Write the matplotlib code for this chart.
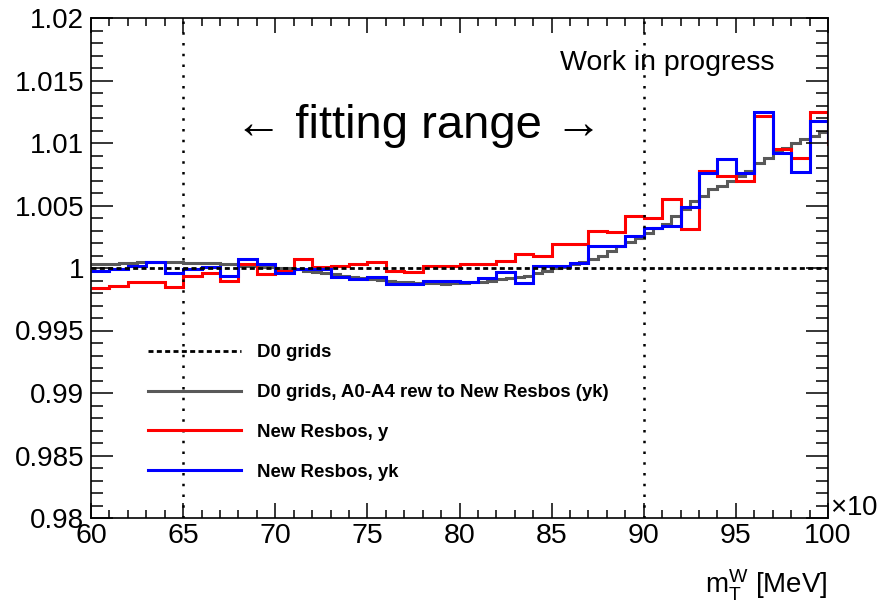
import numpy as np
import matplotlib
matplotlib.use("Agg")
import matplotlib.pyplot as plt
from matplotlib.ticker import MultipleLocator, FixedLocator

plt.rcParams['font.family'] = ['Liberation Sans', 'DejaVu Sans']
plt.rcParams['mathtext.default'] = 'regular'

# bin edges in units of 10^3 MeV
edges_1 = np.arange(60, 102, 1.0)      # 1 unit bins, last bin past the axis
edges_half = np.arange(60, 100.5, 0.5)  # finer bins for the reweighted D0 grids

new_resbos_y = [
    0.9984, 0.9986, 0.9989, 0.9989, 0.9985, 0.9994, 0.9996, 0.9990, 1.0003, 0.9995,
    0.9998, 1.0007, 1.0001, 1.0002, 1.0003, 1.0005, 0.9998, 0.9997, 1.0002, 1.0002,
    1.0003, 1.0003, 1.0006, 1.0011, 1.0010, 1.0019, 1.0019, 1.0030, 1.0029, 1.0042,
    1.0040, 1.0055, 1.0031, 1.0078, 1.0074, 1.0070, 1.0122, 1.0095, 1.0088, 1.0125,
    1.0099,
]
new_resbos_yk = [
    0.9998, 0.9999, 1.0002, 1.0005, 0.9996, 0.9999, 1.0001, 0.9994, 1.0007, 1.0003,
    0.9996, 0.9999, 0.9999, 0.9993, 0.9991, 0.9993, 0.9987, 0.9987, 0.9990, 0.9990,
    0.9989, 0.9992, 0.9997, 0.9988, 1.0002, 1.0002, 1.0004, 1.0018, 1.0018, 1.0026,
    1.0032, 1.0034, 1.0049, 1.0076, 1.0087, 1.0076, 1.0125, 1.0092, 1.0077, 1.0118,
    1.0104,
]
d0_rew = [
    1.0003, 1.0003, 1.0003, 1.0004, 1.0004, 1.0005, 1.0005, 1.0005, 1.0005, 1.0005,
    1.0004, 1.0004, 1.0004, 1.0004, 1.0003, 1.0003, 1.0002, 1.0002, 1.0001, 1.0001,
    1.0000, 1.0000, 0.9999, 0.9998, 0.9997, 0.9996, 0.9995, 0.9994, 0.9993, 0.9992,
    0.9991, 0.99905, 0.9990, 0.9989, 0.9989, 0.9988, 0.9988, 0.9988, 0.99875, 0.99878,
    0.9988, 0.9989, 0.9989, 0.9990, 0.9991, 0.9992, 0.9993, 0.9994, 0.9996, 0.9998,
    1.0000, 1.0001, 1.0003, 1.0005, 1.0007, 1.0010, 1.0014, 1.0018, 1.0021, 1.0024,
    1.0028, 1.0032, 1.0035, 1.0042, 1.0047, 1.0054, 1.0058, 1.0063, 1.0066, 1.0070,
    1.0074, 1.0078, 1.0084, 1.0088, 1.0093, 1.0096, 1.0100, 1.0103, 1.0106, 1.0109,
]
d0_grids = 1.0
fit_range = [65, 90]

ytick_vals = [0.98, 0.985, 0.99, 0.995, 1.0, 1.005, 1.01, 1.015, 1.02]
ytick_labels = ['0.98', '0.985', '0.99', '0.995', '1', '1.005', '1.01', '1.015', '1.02']
xtick_vals = [60, 65, 70, 75, 80, 85, 90, 95, 100]

fig = plt.figure(figsize=(8.77, 6.03), dpi=100)
ax = fig.add_axes([91/877, 1-518/603, (828-91)/877, 500/603])

lw = 2.2
ax.axhline(d0_grids, color='black', lw=2.0, ls=(0, (1.8, 1.2)), label='D0 grids')
ax.stairs(d0_rew, edges_half, baseline=None, color='#595959', lw=lw,
          label='D0 grids, A0-A4 rew to New Resbos (yk)')
ax.stairs(new_resbos_y, edges_1, baseline=None, color='#ff0000', lw=lw,
          label='New Resbos, y')
ax.stairs(new_resbos_yk, edges_1, baseline=None, color='#0000ff', lw=lw,
          label='New Resbos, yk')
for xv in fit_range:
    ax.axvline(xv, color='black', lw=1.8, ls=(0, (1, 3.3)))

ax.set_xlim(60, 100)
ax.set_ylim(0.98, 1.02)
ax.xaxis.set_major_locator(FixedLocator(xtick_vals))
ax.xaxis.set_minor_locator(MultipleLocator(1))
ax.yaxis.set_major_locator(FixedLocator(ytick_vals))
ax.set_yticklabels(ytick_labels)
ax.yaxis.set_minor_locator(MultipleLocator(0.001))
ax.tick_params(axis='both', which='both', direction='in', top=True, right=True,
               width=1.1)
ax.tick_params(axis='x', which='major', length=10.5, pad=3.5, labelsize=20.5)
ax.tick_params(axis='x', which='minor', length=5.5)
ax.tick_params(axis='y', which='major', length=16, pad=5, labelsize=20)
ax.tick_params(axis='y', which='minor', length=8.5)
for s in ax.spines.values():
    s.set_linewidth(1.2)

ax.legend(loc='center left', bbox_to_anchor=(0.0773, 0.211), frameon=False,
          prop={'weight': 'bold', 'size': 13.4}, handlelength=5.0,
          handletextpad=0.85, labelspacing=1.22, borderpad=0, borderaxespad=0)

ax.text(0.4444, 0.785, '\u2190 fitting range \u2192', transform=ax.transAxes,
        ha='center', va='center', fontsize=34)
ax.text(0.7816, 0.91, 'Work in progress', transform=ax.transAxes,
        ha='center', va='center', fontsize=20.5)

fig.text(830/877, 1-508/603, '\u00d710$^3$', ha='left', va='center', fontsize=20)
fig.text(828/877, 1-585/603, 'm$_T^W$ [MeV]', ha='right', va='center', fontsize=20)

fig.savefig('out.png', dpi=100)
